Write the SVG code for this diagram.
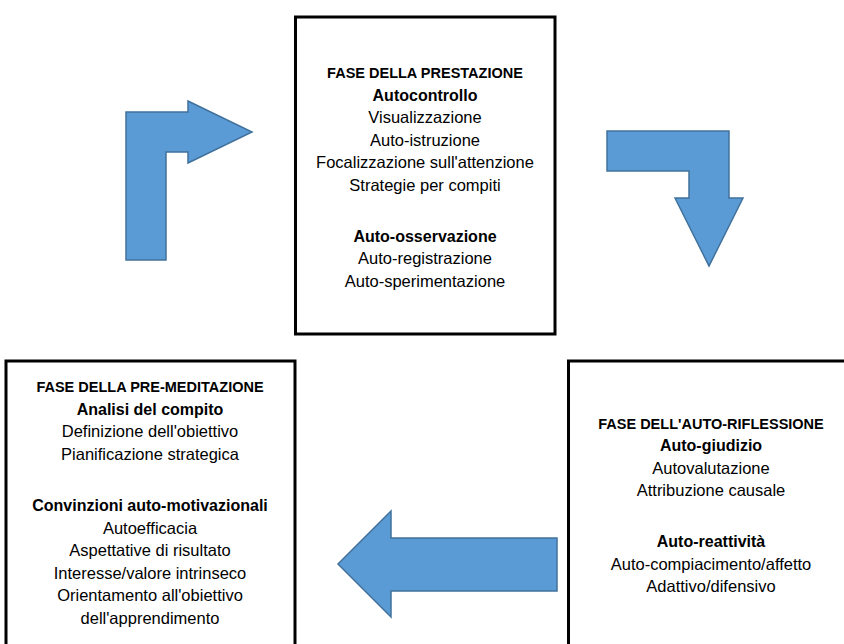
<svg xmlns="http://www.w3.org/2000/svg" width="844" height="644" viewBox="0 0 844 644">
<style>
.box{fill:#fff;stroke:#000;stroke-width:3}
.arrow{fill:#5B9BD5;stroke:#41719C;stroke-width:1.5;stroke-linejoin:miter}
text{font-family:"Liberation Sans",Arial,sans-serif;fill:#000;text-anchor:middle}
.r{font-size:16.5px}
.b{font-size:16px;font-weight:bold}
.t{font-size:14.5px;font-weight:bold}
</style>
<rect width="844" height="644" fill="#fff"/>
<g id="fase-prestazione">
<rect class="box" x="295.5" y="17" width="259.5" height="317"/>
<text class="t" x="425" y="78">FASE DELLA PRESTAZIONE</text>
<text class="b" x="425" y="100.5">Autocontrollo</text>
<text class="r" x="425" y="123">Visualizzazione</text>
<text class="r" x="425" y="145.5">Auto-istruzione</text>
<text class="r" x="425" y="168">Focalizzazione sull'attenzione</text>
<text class="r" x="425" y="190.5">Strategie per compiti</text>
<text class="b" x="425" y="241.5">Auto-osservazione</text>
<text class="r" x="425" y="264">Auto-registrazione</text>
<text class="r" x="425" y="286.5">Auto-sperimentazione</text>
</g>
<g id="fase-pre-meditazione">
<rect class="box" x="6" y="361" width="289" height="300"/>
<text class="t" x="150" y="392">FASE DELLA PRE-MEDITAZIONE</text>
<text class="b" x="150" y="414.5">Analisi del compito</text>
<text class="r" x="150" y="437">Definizione dell'obiettivo</text>
<text class="r" x="150" y="459.5">Pianificazione strategica</text>
<text class="b" x="150" y="511">Convinzioni auto-motivazionali</text>
<text class="r" x="150" y="533.5">Autoefficacia</text>
<text class="r" x="150" y="556">Aspettative di risultato</text>
<text class="r" x="150" y="578.5">Interesse/valore intrinseco</text>
<text class="r" x="150" y="601">Orientamento all'obiettivo</text>
<text class="r" x="150" y="623.5">dell'apprendimento</text>
</g>
<g id="fase-auto-riflessione">
<rect class="box" x="568.5" y="361" width="300" height="300"/>
<text class="t" x="711" y="428.5">FASE DELL'AUTO-RIFLESSIONE</text>
<text class="b" x="711" y="451">Auto-giudizio</text>
<text class="r" x="711" y="473.5">Autovalutazione</text>
<text class="r" x="711" y="496">Attribuzione causale</text>
<text class="b" x="711" y="547">Auto-reattività</text>
<text class="r" x="711" y="569.5">Auto-compiacimento/affetto</text>
<text class="r" x="711" y="592">Adattivo/difensivo</text>
</g>
<g id="connectors">
<path id="arrow-to-prestazione" class="arrow" d="M126,260 L126,112 L188,112 L188,101 L252,132 L188,163 L188,152 L166,152 L166,260 Z"/>
<path id="arrow-to-riflessione" class="arrow" d="M607,131 L729,131 L729,198 L743,198 L709,266 L675,198 L689,198 L689,171 L607,171 Z"/>
<path id="arrow-to-pre-meditazione" class="arrow" d="M557,538 L391,538 L391,511 L338,564 L391,617 L391,591 L557,591 Z"/>
</g>
</svg>
